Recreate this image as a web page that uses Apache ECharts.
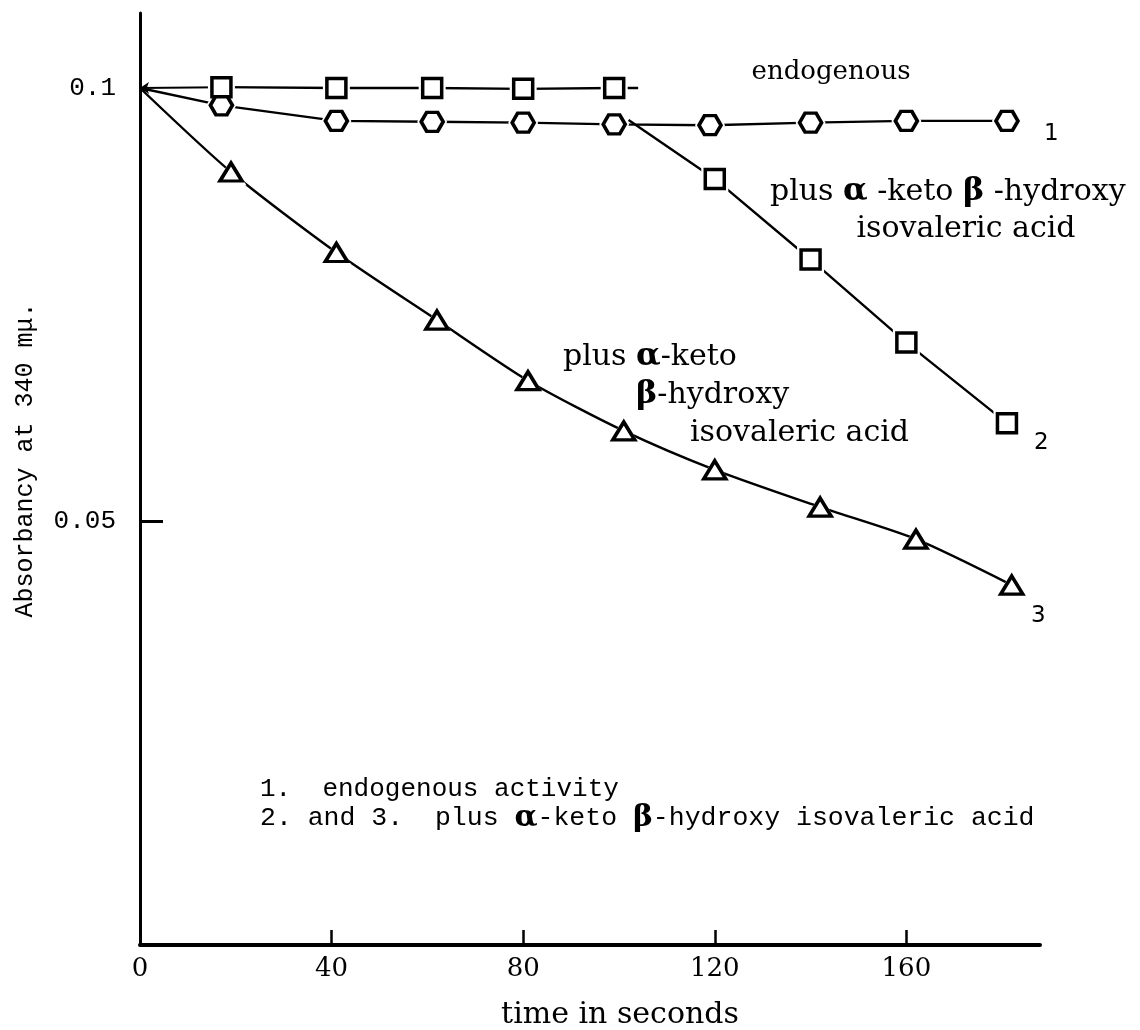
<!DOCTYPE html>
<html><head><meta charset="utf-8">
<script src="https://cdn.jsdelivr.net/npm/echarts@6/dist/echarts.min.js"></script>
<style>html,body{margin:0;padding:0;background:#fff}#c{width:1140px;height:1030px}</style>
</head><body><div id="c"></div>
<script>
// ---- data ----
const xTickLabels = [0, 40, 80, 120, 160];
const xTickMarks = [40, 80, 120, 160];
const yTickLabels = [0.05, 0.1];
const yTickMarks = [0.05];
const startPoint = [0, 0.1];

const hexTimes  = [17, 41, 61, 80, 99, 119, 140, 160, 181];
const hexValues = [0.0980, 0.0962, 0.0961, 0.0960, 0.0958, 0.0957, 0.0960, 0.0962, 0.0962];

const sqTimesBefore  = [17, 41, 61, 80, 99];
const sqValuesBefore = [0.1001, 0.1000, 0.1000, 0.0999, 0.1000];
const sqDashEnd      = [104, 0.1000];
const sqBreakStart   = [102, 0.0963];
const sqTimesAfter   = [120, 140, 160, 181];
const sqValuesAfter  = [0.0895, 0.0802, 0.0706, 0.0613];

const triTimes  = [19, 41, 62, 81, 101, 120, 142, 162, 182];
const triValues = [0.0903, 0.0810, 0.0732, 0.0662, 0.0604, 0.0559, 0.0516, 0.0479, 0.0426];

// ---- chart ----
const zip = (a, b) => a.map((v, i) => [v, b[i]]);
const hexPath = 'path://M-1,0 L-0.5,-0.87 L0.5,-0.87 L1,0 L0.5,0.87 L-0.5,0.87 Z';
const mk = {color: '#fff', borderColor: '#000', borderWidth: 3.5, opacity: 1};
const halo = {color: '#fff', borderWidth: 0, opacity: 1};
const ln = {color: '#000', width: 2.4};
const serif = '"DejaVu Serif", serif';
const mono = '"Liberation Mono", "DejaVu Sans Mono", monospace';
const sans = '"DejaVu Sans", sans-serif';

const hexPts = zip(hexTimes, hexValues);
const sqPts = zip(sqTimesBefore, sqValuesBefore).concat(zip(sqTimesAfter, sqValuesAfter));
const triPts = zip(triTimes, triValues);

const lineSeries = (data, smooth) => ({type: 'line', symbol: 'none', smooth: smooth || false, lineStyle: ln, data: data, z: 2, silent: true});
const markerSeries = (data, symbol, size, z) => ({type: 'scatter', symbol: symbol, symbolSize: size, itemStyle: mk, data: data, z: z});
const haloSeries = (data, symbol, size) => ({type: 'scatter', symbol: symbol, symbolSize: size, itemStyle: halo, data: data, z: 3, silent: true});

const chart = echarts.init(document.getElementById('c'), null, {renderer: 'canvas'});
chart.setOption({
  animation: false,
  backgroundColor: '#fff',
  grid: {left: 140, right: 100, top: 13, bottom: 85},
  xAxis: {
    type: 'value', min: 0, max: 187.9, interval: 40,
    axisLine: {onZero: false, lineStyle: {color: '#000', width: 4}},
    axisTick: {show: true, inside: true, length: 15, lineStyle: {color: '#000', width: 2.5}, customValues: xTickMarks},
    axisLabel: {customValues: xTickLabels, color: '#000', fontFamily: serif, fontSize: 26, margin: 11},
    splitLine: {show: false}
  },
  yAxis: {
    type: 'value', min: 0.00104, max: 0.10866,
    axisLine: {show: true, lineStyle: {color: '#000', width: 3}},
    axisTick: {show: true, inside: true, length: 23, lineStyle: {color: '#000', width: 3}, customValues: yTickMarks},
    axisLabel: {customValues: yTickLabels, color: '#000', fontFamily: mono, fontSize: 26, margin: 24,
      padding: [14, 0, 0, 0]},
    splitLine: {show: false}
  },
  series: [
    // connecting lines
    lineSeries([startPoint].concat(hexPts)),
    lineSeries(zip(sqTimesBefore, sqValuesBefore).concat([sqDashEnd])),
    lineSeries([sqBreakStart].concat(zip(sqTimesAfter, sqValuesAfter))),
    lineSeries([startPoint].concat(triPts), 0.25),
    {type: 'lines', coordinateSystem: 'cartesian2d', symbol: ['none', 'arrow'], symbolSize: 9,
     lineStyle: {color: '#000', width: 2, opacity: 1},
     data: [{coords: [[sqTimesBefore[0], sqValuesBefore[0]], startPoint]}], z: 2},
    // white gaps round the marks
    haloSeries(hexPts, hexPath, [30, 27]),
    haloSeries(sqPts, 'rect', [27, 27]),
    haloSeries(triPts, 'triangle', [31, 27]),
    // the marks
    markerSeries(hexPts, hexPath, [22, 19], 4),
    markerSeries(sqPts, 'rect', [19, 19], 5),
    markerSeries(triPts, 'triangle', [22, 18], 4)
  ],
  graphic: [
    {type: 'text', x: 25, y: 460, rotation: Math.PI / 2, style: {text: 'Absorbancy at 340 mμ.', font: '25px ' + mono, fill: '#000', align: 'center', verticalAlign: 'middle'}},
    {type: 'text', x: 620, y: 1015, style: {text: 'time in seconds', font: '30px ' + serif, fill: '#000', align: 'center', verticalAlign: 'middle'}},
    {type: 'text', x: 831, y: 72, style: {text: 'endogenous', font: '26px ' + serif, fill: '#000', align: 'center', verticalAlign: 'middle'}},
    {type: 'text', x: 1044, y: 134, style: {text: '1', font: '23px ' + sans, fill: '#000', align: 'left', verticalAlign: 'middle'}},
    {type: 'text', x: 1034, y: 443, style: {text: '2', font: '23px ' + sans, fill: '#000', align: 'left', verticalAlign: 'middle'}},
    {type: 'text', x: 1031, y: 616, style: {text: '3', font: '23px ' + sans, fill: '#000', align: 'left', verticalAlign: 'middle'}},
    {type: 'text', x: 770, y: 192, style: {text: 'plus {g|α} -keto {g|β} -hydroxy', font: '30px ' + serif, fill: '#000', verticalAlign: 'middle',
      rich: {g: {font: 'bold 32px ' + serif, fill: '#000'}}}},
    {type: 'text', x: 966, y: 229, style: {text: 'isovaleric acid', font: '30px ' + serif, fill: '#000', align: 'center', verticalAlign: 'middle'}},
    {type: 'text', x: 563, y: 357, style: {text: 'plus {g|α}-keto', font: '30px ' + serif, fill: '#000', verticalAlign: 'middle',
      rich: {g: {font: 'bold 32px ' + serif, fill: '#000'}}}},
    {type: 'text', x: 636, y: 395, style: {text: '{g|β}-hydroxy', font: '30px ' + serif, fill: '#000', verticalAlign: 'middle',
      rich: {g: {font: 'bold 32px ' + serif, fill: '#000'}}}},
    {type: 'text', x: 690, y: 433, style: {text: 'isovaleric acid', font: '30px ' + serif, fill: '#000', verticalAlign: 'middle'}},
    {type: 'text', x: 260, y: 789, style: {text: '1.  endogenous activity', font: '26px ' + mono, fill: '#000', verticalAlign: 'middle'}},
    {type: 'text', x: 260, y: 818, style: {text: '2. and 3.  plus {g|α}-keto {g|β}-hydroxy isovaleric acid', font: '26.5px ' + mono, fill: '#000', verticalAlign: 'middle',
      rich: {g: {font: 'bold 30px ' + serif, fill: '#000'}}}}
  ]
});
</script></body></html>
